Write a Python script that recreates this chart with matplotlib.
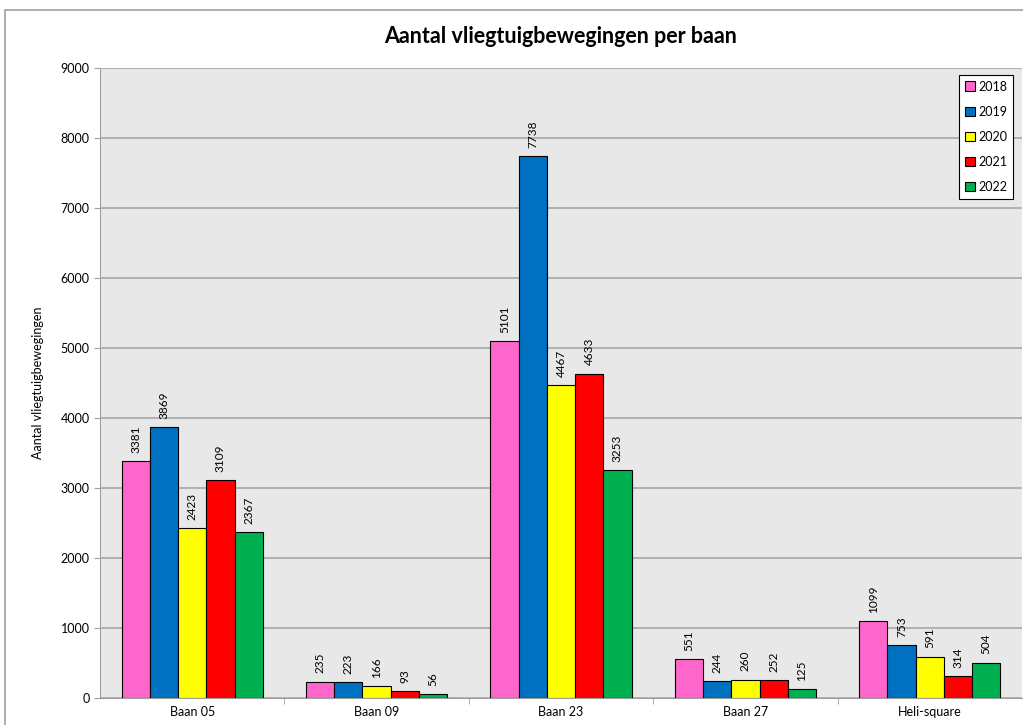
import matplotlib.pyplot as plt
import matplotlib.patches as patches
import numpy as np

categories = ['Baan 05', 'Baan 09', 'Baan 23', 'Baan 27', 'Heli-square']
years = ['2018', '2019', '2020', '2021', '2022']
values = {
    '2018': [3381, 235, 5101, 551, 1099],
    '2019': [3869, 223, 7738, 244, 753],
    '2020': [2423, 166, 4467, 260, 591],
    '2021': [3109, 93, 4633, 252, 314],
    '2022': [2367, 56, 3253, 125, 504],
}
colors = ['#ff66cc', '#0070c0', '#ffff00', '#ff0000', '#00b050']

plt.rcParams['font.family'] = ['Lato', 'DejaVu Sans']

fig = plt.figure(figsize=(10.23, 7.25), dpi=100)
fig.patches.append(patches.Rectangle((5 / 1023, -0.01), 1.1, 1 - 10 / 725 + 0.01,
                                     transform=fig.transFigure, fill=False,
                                     edgecolor='#a0a0a0', linewidth=1.2))
ax = fig.add_axes([100 / 1023, 1 - 698 / 725, 922 / 1023, 630 / 725])
ax.set_facecolor('#e8e8e8')

x = np.arange(len(categories))
w = 0.153
for i, yr in enumerate(years):
    pos = x + (i - 2) * w
    bars = ax.bar(pos, values[yr], w, color=colors[i], edgecolor='black',
                  linewidth=0.8, label=yr, zorder=3)
    for b, v in zip(bars, values[yr]):
        ax.text(b.get_x() + b.get_width() / 2, v + 120, str(v), rotation=90,
                ha='center', va='bottom', fontsize=8.5)

ax.set_xlim(-0.5, len(categories) - 0.5)
ax.set_ylim(0, 9000)
ax.set_yticks(range(0, 9001, 1000))
ax.yaxis.grid(True, color='#a6a6a6', linewidth=1.2, zorder=0)
ax.set_xticks(x)
ax.set_xticklabels(categories, fontsize=9)
ax.set_xticks(np.arange(0.5, len(categories) - 0.5, 1), minor=True)
ax.tick_params(axis='x', which='major', length=0, pad=6)
ax.tick_params(axis='x', which='minor', length=4, color='#a0a0a0')
ax.tick_params(axis='y', labelsize=9, length=4, color='#a0a0a0')
for s in ['top', 'right']:
    ax.spines[s].set_visible(False)
ax.spines['left'].set_color('#a0a0a0')
ax.spines['bottom'].set_color('#a0a0a0')
ax.set_ylabel('Aantal vliegtuigbewegingen', fontsize=9, labelpad=12)

ax.set_title('Aantal vliegtuigbewegingen per baan', fontsize=15.5, fontweight='bold', pad=18)

leg = ax.legend(loc='upper right', bbox_to_anchor=(0.990, 0.989), borderaxespad=0,
                fontsize=9, handlelength=0.8, handleheight=0.8, handletextpad=0.25,
                labelspacing=1.05, borderpad=0.45, fancybox=False,
                edgecolor='black', framealpha=1)
leg.get_frame().set_linewidth(0.8)

fig.savefig('out.png', dpi=100)
